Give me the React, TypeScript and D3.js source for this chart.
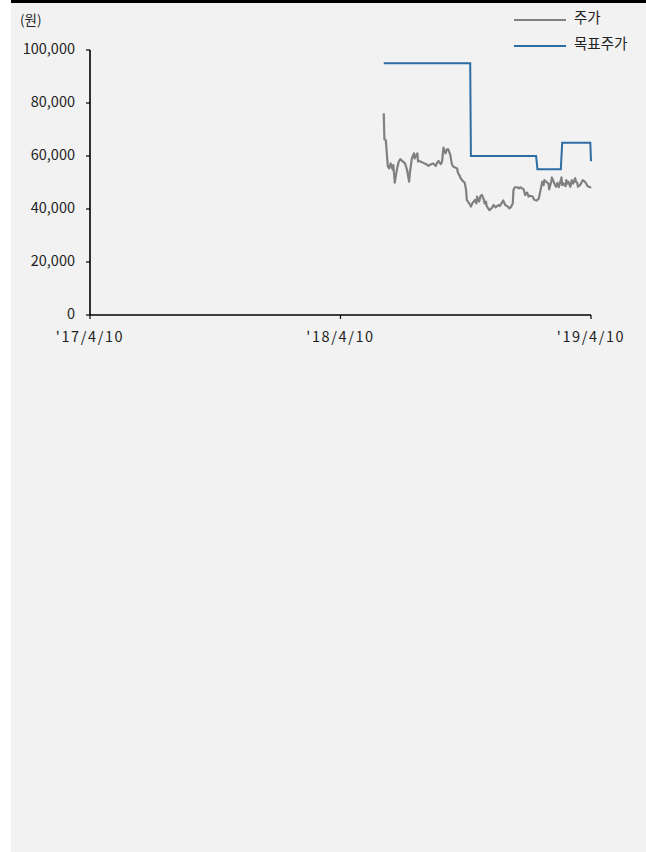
import React from "react";
import * as d3 from "d3";

const priceDates = [
  "2018-06-12","2018-06-13","2018-06-15","2018-06-18","2018-06-20","2018-06-22","2018-06-25","2018-06-26","2018-06-28","2018-07-02",
  "2018-07-04","2018-07-06","2018-07-10","2018-07-13","2018-07-16","2018-07-19","2018-07-20","2018-07-23","2018-07-26","2018-07-27",
  "2018-07-31","2018-08-01","2018-08-03","2018-08-08","2018-08-13","2018-08-16","2018-08-20","2018-08-23","2018-08-27","2018-08-28",
  "2018-08-31","2018-09-03","2018-09-05","2018-09-07","2018-09-10","2018-09-12","2018-09-14","2018-09-17","2018-09-19","2018-09-21",
  "2018-09-27","2018-09-28","2018-10-01","2018-10-02","2018-10-04","2018-10-08","2018-10-10","2018-10-11","2018-10-15","2018-10-17",
  "2018-10-19","2018-10-23","2018-10-25","2018-10-26","2018-10-29","2018-10-31","2018-11-02","2018-11-05","2018-11-06","2018-11-08",
  "2018-11-09","2018-11-13","2018-11-16","2018-11-19","2018-11-22","2018-11-26","2018-11-28","2018-11-30","2018-12-03","2018-12-06",
  "2018-12-10","2018-12-12","2018-12-14","2018-12-17","2018-12-18","2018-12-20","2018-12-24","2018-12-26","2018-12-28","2019-01-02",
  "2019-01-04","2019-01-07","2019-01-09","2019-01-11","2019-01-15","2019-01-17","2019-01-18","2019-01-21","2019-01-24","2019-01-25",
  "2019-01-29","2019-01-31","2019-02-01","2019-02-07","2019-02-08","2019-02-11","2019-02-12","2019-02-14","2019-02-15","2019-02-18",
  "2019-02-20","2019-02-22","2019-02-25","2019-02-26","2019-02-27","2019-02-28","2019-03-04","2019-03-05","2019-03-07","2019-03-08",
  "2019-03-11","2019-03-13","2019-03-15","2019-03-18","2019-03-19","2019-03-21","2019-03-22","2019-03-25","2019-03-27","2019-03-29",
  "2019-04-01","2019-04-03","2019-04-05","2019-04-09","2019-04-10"
];
const priceValues = [
  76100,66300,66000,56000,55300,57200,54900,56600,49900,56000,
  57900,58800,57900,57200,54700,50300,53400,59100,61000,59100,
  61000,57900,58100,57500,56900,56300,56900,57200,56200,57200,
  58100,56900,57900,63200,61000,62500,62500,60400,57200,56000,
  55300,53700,52400,51600,50900,49900,47200,43400,41900,40900,
  42100,43400,42100,44700,42800,44900,45300,43400,42100,42800,
  41100,39600,40200,41500,40600,41500,41100,41900,43200,41500,
  40900,40200,40600,42100,47200,48200,48200,47800,48200,47400,
  45300,46200,44700,45000,44700,43600,43400,43200,44000,45300,
  50300,49000,50900,49600,47400,50300,51900,50700,49900,48400,
  49900,48200,50900,51900,49000,49900,48600,50900,49600,50300,
  48400,50900,49600,51600,50300,49900,48400,49000,49900,50900,
  50300,49600,48600,48200,48000
];

const targetDates = ["2018-06-12","2018-10-16","2018-10-17","2019-01-20","2019-01-22","2019-02-25","2019-02-27","2019-04-09","2019-04-10"];
const targetValues = [95000,95000,60000,60000,55000,55000,65000,65000,58000];

const xTickDates = ["2017-04-10","2018-04-10","2019-04-10"];
const xTickLabels = ["'17/4/10","'18/4/10","'19/4/10"];
const yTicks = [0, 20000, 40000, 60000, 80000, 100000];

const seriesNames = ["주가", "목표주가"];
const seriesColors = ["#808080", "#2e6ca4"];

const W = 646, H = 852;
const FONT = "'Noto Sans CJK KR', 'Noto Sans', sans-serif";

export default function App() {
  const parse = d3.timeParse("%Y-%m-%d");
  const x = d3.scaleTime()
    .domain([parse(xTickDates[0])!, parse(xTickDates[2])!])
    .range([90, 591]);
  const y = d3.scaleLinear().domain([0, 100000]).range([315, 50]);
  const fmt = d3.format(",");

  const priceData = priceDates.map((d, i) => ({ d: parse(d)!, v: priceValues[i] }));
  const targetData = targetDates.map((d, i) => ({ d: parse(d)!, v: targetValues[i] }));
  const line = d3.line<{ d: Date; v: number }>().x(p => x(p.d)).y(p => y(p.v));

  const x0 = x.range()[0], x1 = x.range()[1];
  const y0 = y.range()[0], y1 = y.range()[1];

  return (
    <svg width={W} height={H} style={{ position: "absolute", left: 0, top: 0, display: "block" }} fontFamily={FONT}>
      <rect x={0} y={0} width={W} height={H} fill="#ffffff" />
      <rect x={11} y={3} width={W - 11} height={H - 3} fill="#f2f2f2" />
      <rect x={11} y={0} width={W - 11} height={3} fill="#000000" />

      <text x={20} y={21} fontSize={13.5} fill="#222" dominantBaseline="middle">(원)</text>

      {/* axes */}
      <line x1={x0} x2={x0} y1={y1} y2={y0} stroke="#000" strokeWidth={1.6} />
      <line x1={x0} x2={x1} y1={y0} y2={y0} stroke="#000" strokeWidth={1.6} />
      {yTicks.map(t => (
        <g key={t}>
          <line x1={x0 - 4} x2={x0} y1={y(t)} y2={y(t)} stroke="#000" strokeWidth={1.2} />
          <text x={x0 - 15} y={y(t)} textAnchor="end" dominantBaseline="middle" fontSize={14.5} fill="#222">{fmt(t)}</text>
        </g>
      ))}
      {xTickDates.map((d, i) => (
        <g key={d}>
          <line x1={x(parse(d)!)} x2={x(parse(d)!)} y1={y0} y2={y0 + 4} stroke="#000" strokeWidth={1.2} />
          <text x={x(parse(d)!)} y={y0 + 23} textAnchor="middle" dominantBaseline="middle" fontSize={14.5} letterSpacing={1.6} fill="#222">{xTickLabels[i]}</text>
        </g>
      ))}

      <path d={line(priceData) || ""} fill="none" stroke={seriesColors[0]} strokeWidth={2.2} strokeLinejoin="round" />
      <path d={line(targetData) || ""} fill="none" stroke={seriesColors[1]} strokeWidth={2} strokeLinejoin="miter" />

      {/* legend */}
      {seriesNames.map((n, i) => (
        <g key={n}>
          <line x1={514} x2={566} y1={20 + i * 26} y2={20 + i * 26} stroke={seriesColors[i]} strokeWidth={2} />
          <text x={574} y={19 + i * 26} dominantBaseline="middle" fontSize={14.5} fill="#222">{n}</text>
        </g>
      ))}
    </svg>
  );
}
